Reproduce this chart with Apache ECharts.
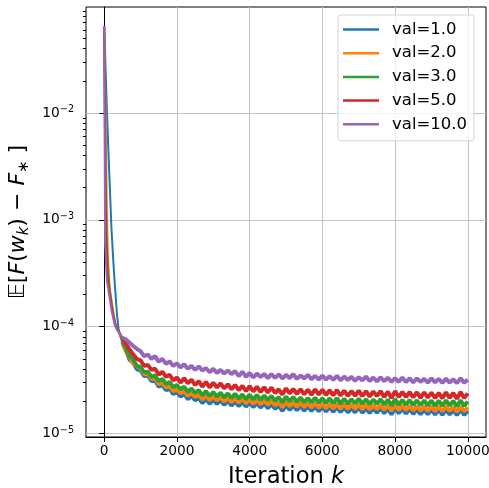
<!DOCTYPE html>
<html>
<head>
<meta charset="utf-8">
<script src="https://cdn.jsdelivr.net/npm/echarts@6/dist/echarts.min.js"></script>
<style>
  html, body { margin: 0; padding: 0; background: #fff; }
  #chart { width: 489px; height: 488px; }
</style>
</head>
<body>
<div id="chart"></div>
<script>
// values are in units of 1e-5
const UNIT = 1e-5;

const iterations = [
  0, 25, 50, 75, 100, 150, 200, 250, 300, 350, 400, 450, 500, 600, 700, 800, 900,
  1000, 1100, 1200, 1300, 1400, 1500, 1600, 1700, 1800, 1900,
  2000, 2100, 2200, 2300, 2400, 2500, 2600, 2700, 2800, 2900,
  3000, 3100, 3200, 3300, 3400, 3500, 3600, 3700, 3800, 3900,
  4000, 4100, 4200, 4300, 4400, 4500, 4600, 4700, 4800, 4900,
  5000, 5100, 5200, 5300, 5400, 5500, 5600, 5700, 5800, 5900,
  6000, 6100, 6200, 6300, 6400, 6500, 6600, 6700, 6800, 6900,
  7000, 7100, 7200, 7300, 7400, 7500, 7600, 7700, 7800, 7900,
  8000, 8100, 8200, 8300, 8400, 8500, 8600, 8700, 8800, 8900,
  9000, 9100, 9200, 9300, 9400, 9500, 9600, 9700, 9800, 9900,
  10000
];

const val1 = [
  6500, 3540, 1930, 1050, 610, 225, 83, 41.5, 23, 13.3, 9.3, 8.2, 7.1, 6.0, 4.9, 4.6, 4.0,
  3.9, 3.45, 3.5, 3.1, 3.15, 2.75, 2.85, 2.55, 2.62, 2.35,
  2.45, 2.22, 2.35, 2.1, 2.25, 2.05, 2.15, 1.93, 2.12, 1.9,
  2.08, 1.9, 2.05, 1.86, 2.02, 1.83, 1.99, 1.81, 1.97, 1.79,
  1.96, 1.77, 1.94, 1.75, 1.91, 1.73, 1.88, 1.71, 1.82, 1.63,
  1.84, 1.67, 1.82, 1.66, 1.81, 1.64, 1.8, 1.63, 1.79, 1.62,
  1.78, 1.61, 1.77, 1.6, 1.77, 1.59, 1.75, 1.58, 1.74, 1.58,
  1.75, 1.57, 1.73, 1.56, 1.72, 1.57, 1.73, 1.55, 1.71, 1.51,
  1.73, 1.55, 1.7, 1.54, 1.7, 1.53, 1.69, 1.52, 1.68, 1.52,
  1.68, 1.51, 1.67, 1.5, 1.68, 1.51, 1.66, 1.49, 1.68, 1.5,
  1.63
];

const val2 = [
  6500, 1730, 460, 122, 48, 23, 17.9, 13.8, 11.1, 9.7, 8.9, 8.0, 7.2, 5.9, 5.2, 4.5, 4.3,
  4.05, 3.6, 3.65, 3.25, 3.3, 2.9, 3.0, 2.7, 2.8, 2.5,
  2.6, 2.38, 2.5, 2.25, 2.4, 2.2, 2.32, 2.08, 2.28, 2.05,
  2.24, 2.04, 2.2, 2.0, 2.16, 1.97, 2.14, 1.95, 2.12, 1.92,
  2.1, 1.9, 2.08, 1.88, 2.05, 1.86, 2.02, 1.84, 1.96, 1.76,
  1.98, 1.8, 1.96, 1.79, 1.95, 1.77, 1.94, 1.75, 1.93, 1.74,
  1.92, 1.73, 1.9, 1.72, 1.91, 1.71, 1.88, 1.7, 1.87, 1.7,
  1.88, 1.69, 1.86, 1.68, 1.85, 1.69, 1.86, 1.67, 1.84, 1.63,
  1.86, 1.66, 1.83, 1.66, 1.82, 1.65, 1.81, 1.64, 1.8, 1.63,
  1.8, 1.62, 1.79, 1.62, 1.8, 1.63, 1.78, 1.6, 1.8, 1.62,
  1.76
];

const val3 = [
  6500, 880, 120, 54, 33, 22, 16.7, 12.9, 10.8, 9.6, 8.9, 8.2, 7.4, 6.2, 5.3, 4.9, 4.3,
  4.2, 3.75, 3.8, 3.4, 3.5, 3.1, 3.25, 2.9, 3.05, 2.72,
  2.85, 2.6, 2.75, 2.45, 2.65, 2.4, 2.55, 2.28, 2.5, 2.25,
  2.45, 2.22, 2.42, 2.18, 2.38, 2.15, 2.36, 2.12, 2.33, 2.1,
  2.32, 2.08, 2.3, 2.06, 2.28, 2.05, 2.26, 2.02, 2.2, 1.95,
  2.22, 2.0, 2.2, 1.98, 2.18, 1.96, 2.16, 1.95, 2.17, 1.94,
  2.15, 1.93, 2.14, 1.92, 2.15, 1.9, 2.12, 1.9, 2.1, 1.91,
  2.12, 1.89, 2.1, 1.88, 2.08, 1.9, 2.1, 1.87, 2.08, 1.82,
  2.1, 1.86, 2.07, 1.86, 2.06, 1.85, 2.05, 1.84, 2.05, 1.83,
  2.04, 1.82, 2.03, 1.82, 2.05, 1.83, 2.02, 1.8, 2.05, 1.82,
  2.0
];

const val5 = [
  6500, 420, 67, 43, 27.3, 20.8, 15.8, 12.6, 10.7, 9.7, 9.1, 8.5, 7.8, 6.9, 6.1, 5.5, 5.0,
  4.85, 4.3, 4.4, 3.95, 4.05, 3.55, 3.8, 3.4, 3.55, 3.15,
  3.35, 3.0, 3.3, 2.95, 3.2, 2.85, 3.1, 2.75, 3.05, 2.7,
  3.0, 2.7, 2.95, 2.65, 2.9, 2.6, 2.85, 2.55, 2.8, 2.5,
  2.78, 2.48, 2.75, 2.45, 2.72, 2.42, 2.7, 2.4, 2.6, 2.32,
  2.65, 2.38, 2.62, 2.35, 2.6, 2.33, 2.58, 2.3, 2.6, 2.32,
  2.58, 2.3, 2.55, 2.28, 2.56, 2.27, 2.52, 2.25, 2.5, 2.26,
  2.52, 2.24, 2.5, 2.22, 2.48, 2.25, 2.5, 2.2, 2.47, 2.15,
  2.5, 2.2, 2.46, 2.2, 2.45, 2.18, 2.44, 2.16, 2.43, 2.17,
  2.42, 2.15, 2.4, 2.14, 2.43, 2.16, 2.4, 2.12, 2.45, 2.15,
  2.38
];

const val10 = [
  6500, 61, 40, 27, 24, 18.5, 14.3, 11.9, 10.1, 9.4, 8.9, 8.4, 7.9, 7.6, 7.1, 6.6, 6.2,
  5.9, 5.3, 5.5, 5.0, 5.3, 4.7, 5.0, 4.5, 4.75, 4.3,
  4.55, 4.15, 4.45, 4.05, 4.3, 3.95, 4.25, 3.9, 4.1, 3.75,
  4.05, 3.7, 3.95, 3.65, 3.9, 3.6, 3.85, 3.45, 3.8, 3.4,
  3.7, 3.35, 3.65, 3.38, 3.62, 3.3, 3.6, 3.32, 3.58, 3.28,
  3.55, 3.3, 3.6, 3.25, 3.5, 3.28, 3.55, 3.22, 3.48, 3.2,
  3.5, 3.2, 3.45, 3.18, 3.48, 3.15, 3.42, 3.17, 3.4, 3.12,
  3.38, 3.14, 3.42, 3.1, 3.35, 3.08, 3.36, 3.1, 3.33, 3.05,
  3.3, 3.06, 3.35, 3.04, 3.3, 3.02, 3.28, 3.05, 3.26, 3.0,
  3.3, 3.02, 3.25, 2.98, 3.27, 3.0, 3.22, 2.97, 3.3, 3.0,
  3.2
];

const seriesNames = ['val=1.0', 'val=2.0', 'val=3.0', 'val=5.0', 'val=10.0'];
const seriesValues = [val1, val2, val3, val5, val10];
const colors = ['#1f77b4', '#ff7f0e', '#2ca02c', '#d62728', '#9467bd'];

const xTicks = [0, 2000, 4000, 6000, 8000, 10000];
const yTicks = [1e-5, 1e-4, 1e-3, 1e-2];
const yTickExponents = ['−5', '−4', '−3', '−2'];
const yMinorTicks = [
  2e-5, 3e-5, 4e-5, 5e-5, 6e-5, 7e-5, 8e-5, 9e-5,
  2e-4, 3e-4, 4e-4, 5e-4, 6e-4, 7e-4, 8e-4, 9e-4,
  2e-3, 3e-3, 4e-3, 5e-3, 6e-3, 7e-3, 8e-3, 9e-3,
  2e-2, 3e-2, 4e-2, 5e-2, 6e-2, 7e-2, 8e-2, 9e-2
];

const FONT = 'DejaVu Sans';
const Y_MIN = 9.3e-6;
const Y_MAX = 0.098;
// the noisy tail is drawn thicker than the fast initial drop
const TAIL_START = 500;

const chart = echarts.init(document.getElementById('chart'), null, { renderer: 'canvas' });

const series = [];
seriesNames.forEach((name, s) => {
  const pts = iterations.map((k, i) => [k, seriesValues[s][i] * UNIT]);
  const base = {
    name,
    type: 'line',
    symbol: 'none',
    showSymbol: false,
    itemStyle: { color: colors[s] },
  };
  series.push(Object.assign({}, base, {
    lineStyle: { width: 2, color: colors[s] },
    data: pts.filter(p => p[0] <= TAIL_START),
    z: 2 + s,
  }));
  series.push(Object.assign({}, base, {
    lineStyle: { width: 4, color: colors[s], join: 'bevel' },
    data: pts.filter(p => p[0] >= TAIL_START),
    z: 2 + s,
  }));
});

const option = {
  animation: false,
  grid: {
    left: 86, top: 7, right: 3, bottom: 51,
    outerBoundsMode: 'none',
    show: true, borderColor: '#000', borderWidth: 1,
  },
  legend: {
    data: seriesNames,
    orient: 'vertical',
    left: 338, top: 15,
    padding: [6, 7, 8, 5],
    icon: 'rect',
    itemWidth: 36, itemHeight: 2.5, itemGap: 6.7,
    backgroundColor: 'rgba(255,255,255,0.8)',
    borderColor: '#d4d4d4', borderWidth: 1, borderRadius: 3,
    textStyle: { fontFamily: FONT, fontSize: 16.5, color: '#000', lineHeight: 17, padding: [0, 0, 0, 8] },
  },
  xAxis: {
    type: 'value', min: -500, max: 10500,
    axisLine: { lineStyle: { color: '#000', width: 1 } },
    axisTick: { customValues: xTicks, length: 5, lineStyle: { color: '#000', width: 1 } },
    axisLabel: {
      customValues: xTicks, color: '#000', fontFamily: FONT, fontSize: 13.75, margin: 7,
      formatter: (v) => String(v),
    },
    splitLine: { show: true, lineStyle: { color: '#c4c4c4', width: 1 } },
    name: 'Iteration {i|k}',
    nameLocation: 'middle', nameGap: 29,
    nameTextStyle: {
      fontFamily: FONT, fontSize: 22.6, color: '#000',
      rich: { i: { fontFamily: FONT, fontStyle: 'italic', fontSize: 22.6, color: '#000' } },
    },
  },
  yAxis: [
    {
      type: 'log', logBase: 10, min: Y_MIN, max: Y_MAX,
      axisLine: { show: true, lineStyle: { color: '#000', width: 1 } },
      axisTick: { customValues: yTicks, length: 5, lineStyle: { color: '#000', width: 1 } },
      axisLabel: {
        customValues: yTicks, margin: 12,
        formatter: (v) => '{b|10}{s|' + yTickExponents[yTicks.findIndex(t => Math.abs(t - v) / t < 1e-6)] + '}',
        rich: {
          b: { fontFamily: FONT, fontSize: 13.75, color: '#000', lineHeight: 16, verticalAlign: 'middle' },
          s: { fontFamily: FONT, fontSize: 9.6, color: '#000', lineHeight: 8, verticalAlign: 'top' },
        },
      },
      splitLine: { show: true, lineStyle: { color: '#c4c4c4', width: 1 } },
      name: '{n|𝔼[}{i|F}{n|(}{i|w}{sub|k}{n|) − }{i|F}{sub|∗}{n| ]}',
      nameLocation: 'middle', nameRotate: 90, nameGap: 40,
      nameTextStyle: {
        rich: {
          n: { fontFamily: FONT, fontSize: 22, color: '#000', lineHeight: 26, verticalAlign: 'middle' },
          i: { fontFamily: FONT, fontStyle: 'italic', fontSize: 22, color: '#000', lineHeight: 26, verticalAlign: 'middle' },
          sub: { fontFamily: FONT, fontStyle: 'italic', fontSize: 15, color: '#000', lineHeight: 14, verticalAlign: 'bottom' },
        },
      },
    },
    {
      type: 'log', logBase: 10, min: Y_MIN, max: Y_MAX,
      position: 'left',
      axisLine: { show: false },
      axisTick: { customValues: yMinorTicks, length: 3, lineStyle: { color: '#000', width: 1 } },
      axisLabel: { show: false },
      splitLine: { show: false },
    },
  ],
  series,
};

chart.setOption(option);
</script>
</body>
</html>
